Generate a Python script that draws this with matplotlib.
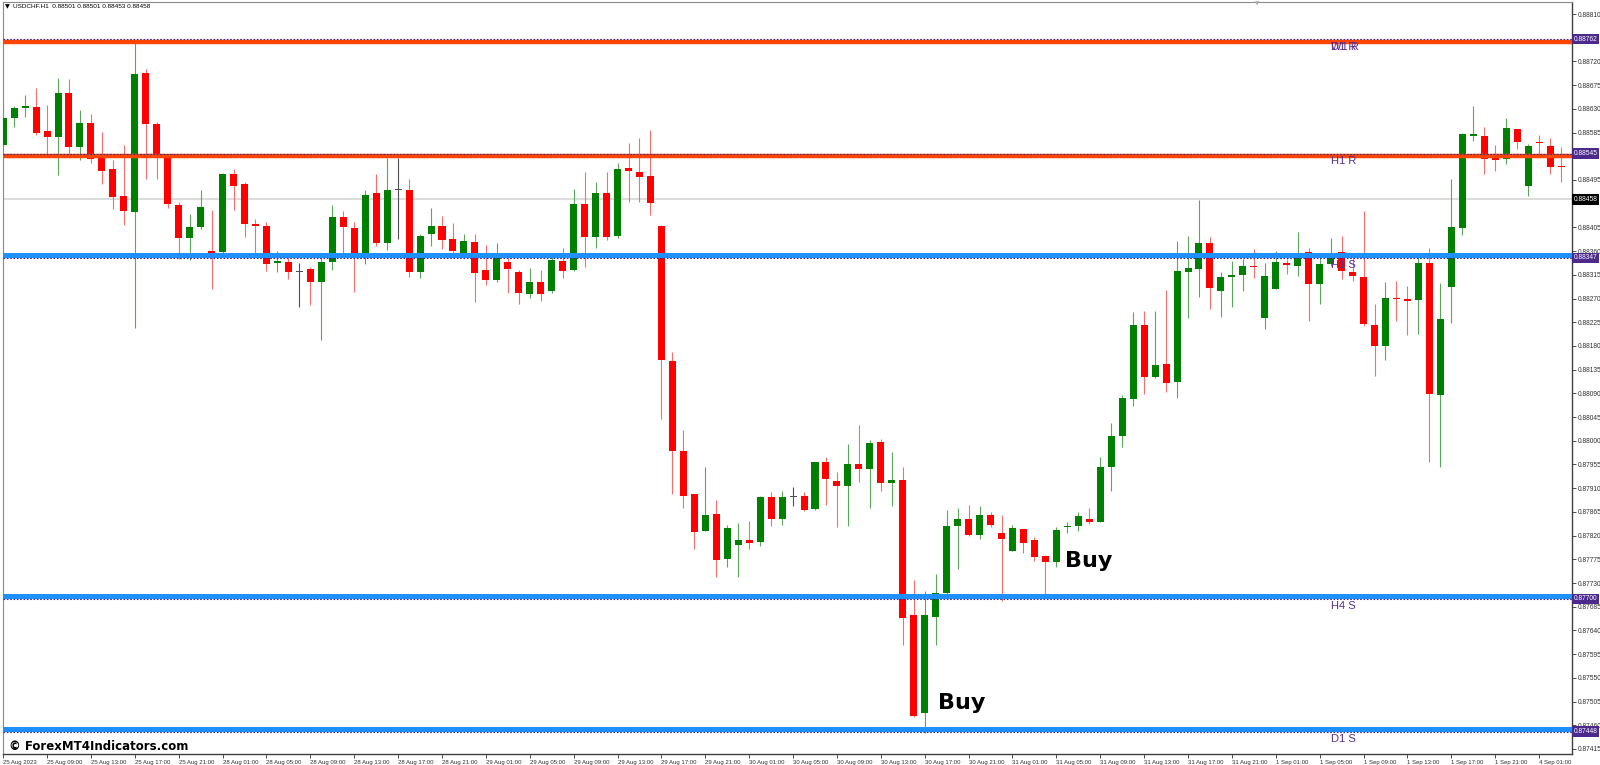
import numpy as np
import matplotlib.pyplot as plt
from matplotlib.transforms import blended_transform_factory

# USDCHF H1 candles (25 Aug 2023 05:00 -> 4 Sep 03:00)
opens = [0.88561, 0.88613, 0.88632, 0.88634, 0.88588, 0.88577, 0.88660, 0.88558, 0.88603, 0.88537,
         0.88516, 0.88465, 0.88434, 0.88698, 0.88601, 0.88542, 0.88448, 0.88385, 0.88406, 0.88360,
         0.88358, 0.88506, 0.88487, 0.88411, 0.88408, 0.88337, 0.88339, 0.88320, 0.88326, 0.88301,
         0.88339, 0.88425, 0.88404, 0.88347, 0.88470, 0.88375, 0.88476, 0.88476, 0.88320, 0.88392,
         0.88408, 0.88383, 0.88354, 0.88377, 0.88324, 0.88305, 0.88339, 0.88320, 0.88279, 0.88301,
         0.88284, 0.88341, 0.88324, 0.88449, 0.88387, 0.88470, 0.88389, 0.88518, 0.88510, 0.88503,
         0.88408, 0.88151, 0.87981, 0.87899, 0.87828, 0.87861, 0.87776, 0.87802, 0.87812, 0.87808,
         0.87893, 0.87852, 0.87893, 0.87896, 0.87870, 0.87960, 0.87924, 0.87915, 0.87955, 0.87946,
         0.87997, 0.87919, 0.87925, 0.87669, 0.87483, 0.87666, 0.87711, 0.87838, 0.87851, 0.87822,
         0.87859, 0.87825, 0.87791, 0.87832, 0.87811, 0.87782, 0.87769, 0.87836, 0.87838, 0.87852,
         0.87846, 0.87950, 0.88009, 0.88079, 0.88220, 0.88121, 0.88146, 0.88112, 0.88320, 0.88326,
         0.88375, 0.88284, 0.88311, 0.88315, 0.88332, 0.88233, 0.88288, 0.88337, 0.88332, 0.88358,
         0.88298, 0.88336, 0.88358, 0.88320, 0.88311, 0.88220, 0.88180, 0.88271, 0.88269, 0.88267,
         0.88337, 0.88087, 0.88292, 0.88404, 0.88579, 0.88579, 0.88540, 0.88535, 0.88592, 0.88484,
         0.88567, 0.88560, 0.88521]
highs = [0.88641, 0.88635, 0.88656, 0.88670, 0.88637, 0.88689, 0.88687, 0.88628, 0.88620, 0.88586,
         0.88533, 0.88561, 0.88761, 0.88706, 0.88605, 0.88542, 0.88453, 0.88430, 0.88476, 0.88438,
         0.88508, 0.88516, 0.88491, 0.88421, 0.88415, 0.88360, 0.88347, 0.88337, 0.88330, 0.88356,
         0.88448, 0.88436, 0.88415, 0.88476, 0.88506, 0.88537, 0.88537, 0.88497, 0.88392, 0.88442,
         0.88427, 0.88413, 0.88392, 0.88392, 0.88372, 0.88375, 0.88347, 0.88324, 0.88328, 0.88324,
         0.88349, 0.88366, 0.88478, 0.88510, 0.88491, 0.88510, 0.88527, 0.88565, 0.88575, 0.88590,
         0.88410, 0.88169, 0.88020, 0.87899, 0.87951, 0.87888, 0.87841, 0.87843, 0.87847, 0.87895,
         0.87903, 0.87904, 0.87912, 0.87903, 0.87960, 0.87970, 0.87940, 0.87994, 0.88030, 0.88002,
         0.88004, 0.87978, 0.87951, 0.87736, 0.87715, 0.87748, 0.87868, 0.87872, 0.87878, 0.87877,
         0.87864, 0.87860, 0.87840, 0.87832, 0.87818, 0.87783, 0.87837, 0.87846, 0.87865, 0.87872,
         0.87969, 0.88034, 0.88087, 0.88244, 0.88246, 0.88246, 0.88286, 0.88379, 0.88389, 0.88457,
         0.88387, 0.88320, 0.88341, 0.88345, 0.88364, 0.88337, 0.88360, 0.88345, 0.88396, 0.88366,
         0.88356, 0.88385, 0.88389, 0.88347, 0.88436, 0.88260, 0.88301, 0.88303, 0.88294, 0.88349,
         0.88366, 0.88300, 0.88497, 0.88585, 0.88635, 0.88596, 0.88561, 0.88613, 0.88592, 0.88563,
         0.88580, 0.88575, 0.88558]
lows = [0.88558, 0.88596, 0.88615, 0.88580, 0.88539, 0.88504, 0.88539, 0.88533, 0.88527, 0.88487,
        0.88440, 0.88410, 0.88214, 0.88497, 0.88497, 0.88442, 0.88345, 0.88343, 0.88402, 0.88288,
        0.88356, 0.88438, 0.88387, 0.88353, 0.88322, 0.88320, 0.88307, 0.88254, 0.88258, 0.88191,
        0.88324, 0.88356, 0.88282, 0.88336, 0.88370, 0.88362, 0.88383, 0.88311, 0.88309, 0.88370,
        0.88364, 0.88353, 0.88351, 0.88263, 0.88296, 0.88301, 0.88281, 0.88260, 0.88271, 0.88265,
        0.88281, 0.88309, 0.88322, 0.88330, 0.88366, 0.88381, 0.88385, 0.88453, 0.88453, 0.88429,
        0.88042, 0.87899, 0.87872, 0.87795, 0.87828, 0.87741, 0.87760, 0.87741, 0.87795, 0.87800,
        0.87838, 0.87841, 0.87877, 0.87866, 0.87868, 0.87878, 0.87836, 0.87839, 0.87921, 0.87873,
        0.87904, 0.87876, 0.87613, 0.87475, 0.87446, 0.87612, 0.87710, 0.87757, 0.87819, 0.87813,
        0.87836, 0.87695, 0.87790, 0.87787, 0.87772, 0.87708, 0.87760, 0.87825, 0.87829, 0.87842,
        0.87845, 0.87905, 0.87988, 0.88066, 0.88089, 0.88119, 0.88093, 0.88081, 0.88233, 0.88273,
        0.88250, 0.88235, 0.88254, 0.88284, 0.88309, 0.88212, 0.88288, 0.88317, 0.88313, 0.88227,
        0.88260, 0.88332, 0.88307, 0.88303, 0.88218, 0.88123, 0.88153, 0.88227, 0.88201, 0.88203,
        0.87960, 0.87950, 0.88224, 0.88391, 0.88569, 0.88506, 0.88512, 0.88525, 0.88554, 0.88465,
        0.88544, 0.88506, 0.88491]
closes = [0.88613, 0.88632, 0.88635, 0.88584, 0.88577, 0.88660, 0.88558, 0.88603, 0.88535, 0.88512,
          0.88463, 0.88436, 0.88696, 0.88601, 0.88544, 0.88449, 0.88385, 0.88406, 0.88444, 0.88353,
          0.88506, 0.88484, 0.88411, 0.88408, 0.88336, 0.88341, 0.88320, 0.88320, 0.88301, 0.88339,
          0.88425, 0.88406, 0.88347, 0.88467, 0.88375, 0.88476, 0.88476, 0.88320, 0.88389, 0.88408,
          0.88381, 0.88360, 0.88379, 0.88318, 0.88305, 0.88347, 0.88326, 0.88281, 0.88301, 0.88279,
          0.88343, 0.88322, 0.88449, 0.88387, 0.88470, 0.88387, 0.88516, 0.88512, 0.88501, 0.88451,
          0.88153, 0.87981, 0.87895, 0.87827, 0.87860, 0.87774, 0.87834, 0.87812, 0.87806, 0.87894,
          0.87851, 0.87893, 0.87893, 0.87869, 0.87959, 0.87928, 0.87915, 0.87955, 0.87947, 0.87996,
          0.87919, 0.87926, 0.87664, 0.87478, 0.87669, 0.87712, 0.87838, 0.87851, 0.87821, 0.87859,
          0.87841, 0.87813, 0.87834, 0.87806, 0.87779, 0.87769, 0.87830, 0.87838, 0.87857, 0.87846,
          0.87950, 0.88009, 0.88081, 0.88220, 0.88121, 0.88144, 0.88110, 0.88322, 0.88328, 0.88375,
          0.88290, 0.88311, 0.88315, 0.88332, 0.88330, 0.88313, 0.88339, 0.88334, 0.88356, 0.88298,
          0.88336, 0.88356, 0.88322, 0.88313, 0.88222, 0.88180, 0.88271, 0.88269, 0.88265, 0.88337,
          0.88089, 0.88231, 0.88406, 0.88582, 0.88582, 0.88535, 0.88533, 0.88594, 0.88567, 0.88559,
          0.88565, 0.88520, 0.88519]

time_labels = ['25 Aug 2023', '25 Aug 09:00', '25 Aug 13:00', '25 Aug 17:00', '25 Aug 21:00',
               '28 Aug 01:00', '28 Aug 05:00', '28 Aug 09:00', '28 Aug 13:00', '28 Aug 17:00', '28 Aug 21:00',
               '29 Aug 01:00', '29 Aug 05:00', '29 Aug 09:00', '29 Aug 13:00', '29 Aug 17:00', '29 Aug 21:00',
               '30 Aug 01:00', '30 Aug 05:00', '30 Aug 09:00', '30 Aug 13:00', '30 Aug 17:00', '30 Aug 21:00',
               '31 Aug 01:00', '31 Aug 05:00', '31 Aug 09:00', '31 Aug 13:00', '31 Aug 17:00', '31 Aug 21:00',
               '1 Sep 01:00', '1 Sep 05:00', '1 Sep 09:00', '1 Sep 13:00', '1 Sep 17:00', '1 Sep 21:00',
               '4 Sep 01:00']

# support / resistance levels of the indicator
levels = [0.88762, 0.88545, 0.88347, 0.87700, 0.87448]
level_kinds = ['R', 'R', 'S', 'S', 'S']
level_names = [['W1 R', 'D1 R'], ['H1 R'], ['H1 S'], ['H4 S'], ['D1 S']]
bid = 0.88458

symbol = 'USDCHF.H1'
last_ohlc = [0.88501, 0.88501, 0.88453, 0.88458]

# Buy signals: (bar, price of text baseline)
buy_bars = [85.2, 96.8]
buy_prices = [0.87491, 0.87760]

ymin, ymax = 0.874055, 0.888328
W, H = 1600, 765

fig = plt.figure(figsize=(W / 100, H / 100), dpi=100)
ax = fig.add_axes([2.5 / W, (H - 754) / H, 1569.5 / W, 752 / H])
ax.set_xlim(-0.06, 143.0)
ax.set_ylim(ymin, ymax)
px = (ymax - ymin) / 752.0  # price per pixel

o, h, l, c = (np.array(a) for a in (opens, highs, lows, closes))
idx = np.arange(len(o))
up = c > o
dn = c < o

wick_cols = np.where(up, '#5aa85a', np.where(dn, '#ff6b6b', '#505050'))
body_cols = np.where(up, '#008000', np.where(dn, '#ff0000', '#505050'))
ax.vlines(idx, l, h, colors=wick_cols, linewidth=0.8, zorder=3)
ax.bar(idx, np.maximum(np.abs(c - o), 1.1 * px), bottom=np.minimum(o, c),
       width=0.64, color=body_cols, linewidth=0, zorder=4)

# bid line
ax.axhline(bid, color='#dcdcdc', lw=1.4, zorder=2)

# levels
for lev, kind, names in zip(levels, level_kinds, level_names):
    if kind == 'R':
        ax.axhline(lev - 2.3 * px, color='#ff4500', lw=3.2, zorder=5)
    else:
        ax.axhline(lev + 2.6 * px, color='#1e90ff', lw=3.6, zorder=5)
    ax.axhline(lev, color='#3a2a8c', lw=0.8, ls=(0, (1.5, 1.5)), zorder=6)
    for name in names:
        ax.text(121.0, lev - 2.5 * px, name, color='#5b2d8e', fontsize=8,
                family='Liberation Sans', ha='left', va='top', zorder=7)

# buy labels
for bx, by in zip(buy_bars, buy_prices):
    ax.text(bx, by, 'Buy', fontsize=16, fontweight='bold', color='black',
            ha='left', va='baseline', zorder=8)

# axes styling
for side in ['left', 'top']:
    ax.spines[side].set_color('#8a8a8a')
    ax.spines[side].set_linewidth(0.8)
for side in ['right', 'bottom']:
    ax.spines[side].set_color('#404040')
    ax.spines[side].set_linewidth(1.0)

ax.yaxis.tick_right()
price_ticks = np.round(np.arange(0.87415, 0.88811, 0.00045), 5)
boxed = levels + [bid]
# tick labels that sit under a price box are hidden, as on the terminal
price_labels = ['' if min(abs(t - b) for b in boxed) < 5 * px else f'{t:.5f}' for t in price_ticks]
ax.set_yticks(price_ticks)
ax.set_yticklabels(price_labels)
ax.tick_params(axis='y', length=3, width=0.6, pad=1.5, labelsize=4.8,
               colors='#303030', labelfontfamily='Liberation Sans')

ax.set_xticks(idx[::4][:len(time_labels)])
ax.set_xticklabels(time_labels, ha='left')
ax.tick_params(axis='x', length=3, width=0.6, pad=1, labelsize=4.3,
               colors='#303030', labelfontfamily='Liberation Sans')

# price boxes on the right axis
trans = blended_transform_factory(ax.transAxes, ax.transData)
for lev in levels:
    ax.text(1.0 + 1.5 / 1569.5, lev, f'{lev:.5f}', transform=trans, ha='left', va='center',
            fontsize=4.8, family='Liberation Sans', color='white', clip_on=False, zorder=10,
            bbox=dict(boxstyle='square,pad=0.25', fc='#4b2a8c', ec='none'))
ax.text(1.0 + 1.5 / 1569.5, bid, f'{bid:.5f}', transform=trans, ha='left', va='center',
        fontsize=4.8, family='Liberation Sans', color='white', clip_on=False, zorder=10,
        bbox=dict(boxstyle='square,pad=0.25', fc='black', ec='none'))

# header and watermark
fig.text(5 / W, 1 - 7 / H, '\u25BC', fontsize=4.5, color='black', va='center', ha='left')
fig.text(13 / W, 1 - 7 / H, symbol + '  ' + ' '.join(f'{v:.5f}' for v in last_ohlc),
         fontsize=4.6, family='Liberation Sans', color='black', va='center', ha='left')
fig.text(1257 / W, 1 - 4 / H, '\u25BC', fontsize=4, color='#b0b0b0', va='center', ha='center')
fig.text(9 / W, (H - 750) / H, '\u00A9 ForexMT4Indicators.com', fontsize=8.5,
         fontweight='bold', color='black', va='baseline', ha='left')

fig.savefig('out.png', dpi=100, facecolor='white')
